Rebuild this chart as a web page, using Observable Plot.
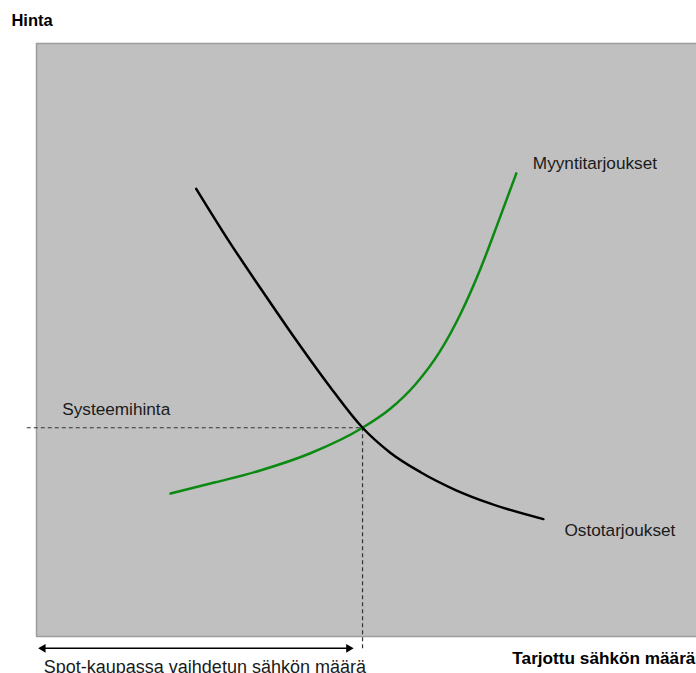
<!DOCTYPE html>
<html>
<head>
<meta charset="utf-8">
<script src="https://cdn.jsdelivr.net/npm/d3@7"></script>
<script src="https://cdn.jsdelivr.net/npm/@observablehq/plot@0.6"></script>
<style>
  html, body { margin: 0; padding: 0; background: #ffffff; overflow: hidden; }
</style>
</head>
<body>
<div id="chart"></div>
<script>
// Demand curve (Ostotarjoukset): quantity, price
const demandQ = [24.2, 29.2, 34.2, 39.2, 44.2, 49.4, 53.6, 58.2, 63.5, 68.8, 76.8];
const demandP = [75.5, 66.6, 58.3, 50.2, 42.5, 35.2, 31.0, 27.7, 24.7, 22.4, 19.8];
// Supply curve (Myyntitarjoukset): quantity, price
const supplyQ = [20.3, 27.1, 33.9, 41.5, 49.4, 53.6, 57.4, 61.2, 64.2, 67.3, 70.0, 72.7];
const supplyP = [24.1, 26.0, 28.0, 30.9, 35.2, 38.4, 42.5, 48.2, 54.3, 62.1, 70.0, 78.1];
// Equilibrium
const eqQ = 49.4;
const eqP = 35.2;
// Labels
const yTitle = "Hinta";
const xTitle = "Tarjottu sähkön määrä";
const supplyLabel = "Myyntitarjoukset";
const demandLabel = "Ostotarjoukset";
const priceLabel = "Systeemihinta";
const volumeLabel = "Spot-kaupassa vaihdetun sähkön määrä";

const demand = demandQ.map((q, i) => ({q, p: demandP[i]}));
const supply = supplyQ.map((q, i) => ({q, p: supplyP[i]}));

const font = "'Liberation Sans', Arial, sans-serif";

const chart = Plot.plot({
  width: 696,
  height: 673,
  marginLeft: 36,
  marginRight: 0,
  marginTop: 43,
  marginBottom: 37,
  style: {fontFamily: font, background: "#ffffff", overflow: "visible"},
  x: {domain: [0, 100], axis: null},
  y: {domain: [0, 100], axis: null},
  marks: [
    Plot.frame({fill: "#c0c0c0", stroke: "none"}),
    Plot.ruleX([0], {stroke: "#9c9c9c", strokeWidth: 1.5}),
    Plot.ruleY([0, 100], {stroke: "#9c9c9c", strokeWidth: 1.5}),
    // dashed guides
    Plot.ruleY([eqP], {x1: -1.4, x2: eqQ, stroke: "#333", strokeWidth: 1.2, strokeDasharray: "4,3"}),
    Plot.ruleX([eqQ], {y1: eqP, y2: -2.4, stroke: "#333", strokeWidth: 1.2, strokeDasharray: "4,3"}),
    // curves
    Plot.line(supply, {x: "q", y: "p", curve: "monotone-x", stroke: "#0b8a12", strokeWidth: 2.5}),
    Plot.line(demand, {x: "q", y: "p", curve: "monotone-x", stroke: "#000", strokeWidth: 2.5}),
    // double arrow
    Plot.ruleY([-2.0], {x1: 0.6, x2: 47.6, stroke: "#000", strokeWidth: 1.5}),
    Plot.dot([{x: 1.0, y: -2.0, r: -90}, {x: 47.3, y: -2.0, r: 90}], {x: "x", y: "y", rotate: "r", symbol: "triangle", r: 3.2, fill: "#000", stroke: "none"}),
    // labels
    Plot.text([yTitle], {x: -3.8, y: 102.9, textAnchor: "start", lineAnchor: "bottom", fontSize: 16.5, fontWeight: "bold", fill: "#000"}),
    Plot.text([xTitle], {x: 72.1, y: -4.6, textAnchor: "start", lineAnchor: "bottom", fontSize: 17.2, fontWeight: "bold", fill: "#000"}),
    Plot.text([priceLabel], {x: 3.9, y: 37.3, textAnchor: "start", lineAnchor: "bottom", fontSize: 17.2, fill: "#1a1a1a"}),
    Plot.text([supplyLabel], {x: 75.2, y: 78.9, textAnchor: "start", lineAnchor: "bottom", fontSize: 17.2, fill: "#1a1a1a"}),
    Plot.text([demandLabel], {x: 80.0, y: 17.0, textAnchor: "start", lineAnchor: "bottom", fontSize: 17.2, fill: "#1a1a1a"}),
    Plot.text([volumeLabel], {x: 1.1, y: -6.2, textAnchor: "start", lineAnchor: "bottom", fontSize: 18, fill: "#1a1a1a"})
  ]
});
document.getElementById("chart").appendChild(chart);
</script>
</body>
</html>
